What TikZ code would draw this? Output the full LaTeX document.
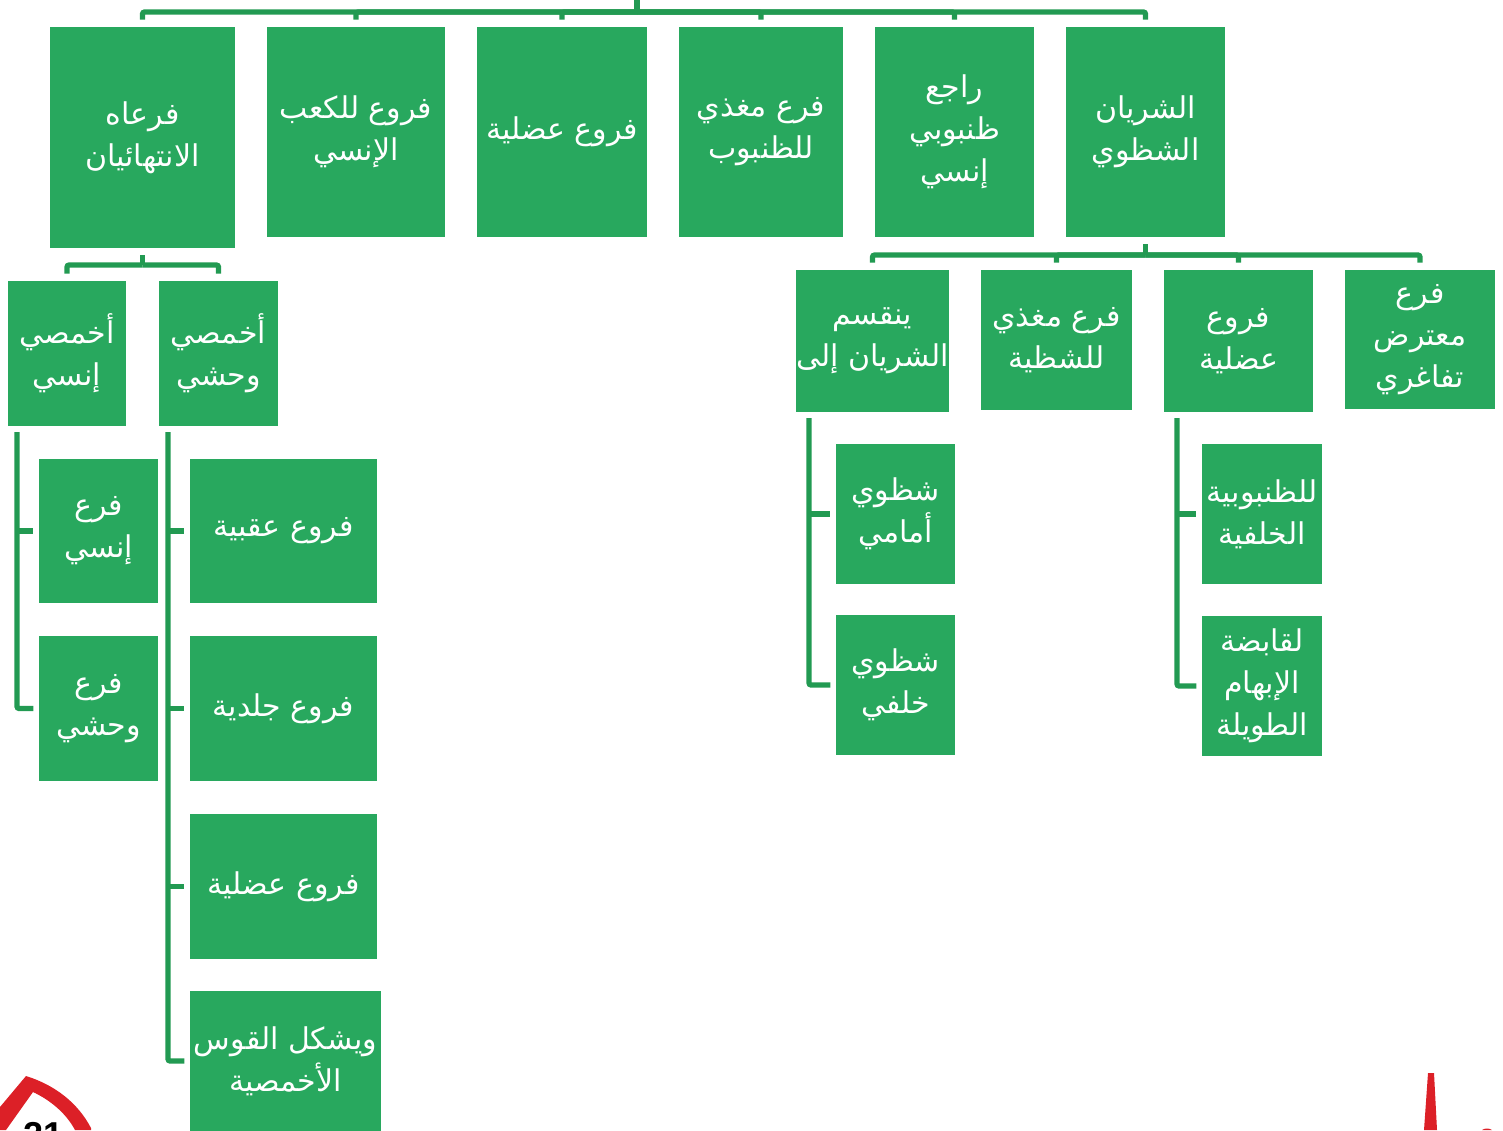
\documentclass[tikz,border=0pt]{standalone}
\usepackage{fontspec}
\TeXXeTstate=1
\newfontfamily\arabicfont[Script=Arabic]{DejaVu Sans}
\definecolor{boxgreen}{HTML}{28A85E}
\definecolor{linegreen}{HTML}{229A52}
\definecolor{logored}{HTML}{DC2027}
\newcommand\rl[1]{\beginR #1\endR}
\newcommand\bx[6]{\node[leafbox,minimum width=\the\dimexpr(#4pt-#2pt)/2\relax,minimum height=\the\dimexpr(#5pt-#3pt)/2\relax] (#1) at ({(#2+#4)/2},{(#3+#5)/2}) {#6};}
\tikzset{
  leafbox/.style={fill=boxgreen,draw=none,inner sep=0pt,text=white,align=center,font=\arabicfont\fontsize{15}{21}\selectfont},
  conn/.style={draw=linegreen,line width=2.6pt,rounded corners=1pt},
  gaptop/.style={shorten >=3.5pt},
  gapside/.style={shorten >=2.6pt}
}
\begin{document}
\begin{tikzpicture}[x=0.5pt,y=-0.5pt]
\useasboundingbox (0,0) rectangle (1503,1130);
% top row
\bx{a1}{50}{27}{235}{248}{\rl{فرعاه}\\\rl{الانتهائيان}}
\bx{a2}{267}{27}{445}{237}{\rl{فروع للكعب}\\\rl{الإنسي}}
\bx{a3}{477}{27}{647}{237}{\rl{فروع عضلية}}
\bx{a4}{679}{27}{843}{237}{\rl{فرع مغذي}\\\rl{للظنبوب}}
\bx{a5}{875}{27}{1034}{237}{\rl{راجع}\\\rl{ظنبوبي}\\\rl{إنسي}}
\bx{a6}{1066}{27}{1225}{237}{\rl{الشريان}\\\rl{الشظوي}}
% left subtree
\bx{b1}{8}{281}{126}{426}{\rl{أخمصي}\\\rl{إنسي}}
\bx{b2}{159}{281}{278}{426}{\rl{أخمصي}\\\rl{وحشي}}
\bx{c1}{39}{459}{158}{603}{\rl{فرع}\\\rl{إنسي}}
\bx{c2}{39}{636}{158}{781}{\rl{فرع}\\\rl{وحشي}}
\bx{d1}{190}{459}{377}{603}{\rl{فروع عقبية}}
\bx{d2}{190}{636}{377}{781}{\rl{فروع جلدية}}
\bx{d3}{190}{814}{377}{959}{\rl{فروع عضلية}}
\bx{d4}{190}{991}{381}{1131}{\rl{ويشكل القوس}\\\rl{الأخمصية}}
% right subtree
\bx{e1}{796}{270}{949}{412}{\rl{ينقسم}\\\rl{الشريان إلى}}
\bx{e2}{981}{270}{1132}{410}{\rl{فرع مغذي}\\\rl{للشظية}}
\bx{e3}{1164}{270}{1313}{412}{\rl{فروع}\\\rl{عضلية}}
\bx{e4}{1345}{270}{1495}{409}{\rl{فرع}\\\rl{معترض}\\\rl{تفاغري}}
\bx{f1}{836}{444}{955}{584}{\rl{شظوي}\\\rl{أمامي}}
\bx{f2}{836}{615}{955}{755}{\rl{شظوي}\\\rl{خلفي}}
\bx{g1}{1202}{444}{1322}{584}{\rl{للظنبوبية}\\\rl{الخلفية}}
\bx{g2}{1202}{616}{1322}{756}{\rl{لقابضة}\\\rl{الإبهام}\\\rl{الطويلة}}
% top bus
\coordinate (topin) at (637,0);
\coordinate (topbus) at (637,12);
\draw[conn] (topin) -- (topbus);
\foreach \n in {a1,a2,a3,a4,a5,a6} \draw[conn,gaptop] (topbus) -| (\n.north);
% bus under a1
\coordinate (abus) at (a1.south |- 0,265);
\draw[conn,shorten <=3.5pt] (a1.south) -- (abus);
\foreach \n in {b1,b2} \draw[conn,gaptop] (abus) -| (\n.north);
% bus under a6
\coordinate (rbus) at (a6.south |- 0,255);
\draw[conn,shorten <=3.5pt] (a6.south) -- (rbus);
\foreach \n in {e1,e2,e3,e4} \draw[conn,gaptop] (rbus) -| (\n.north);
% side trunks
\coordinate (tb1) at (17,432);
\draw[conn,gapside] (tb1) |- (c2.west);
\draw[conn,gapside] (tb1 |- c1.west) -- (c1.west);
\coordinate (tb2) at (168,432);
\draw[conn,gapside] (tb2) |- (d4.west);
\foreach \n in {d1,d2,d3} \draw[conn,gapside] (tb2 |- \n.west) -- (\n.west);
\coordinate (te1) at (809,418);
\draw[conn,gapside] (te1) |- (f2.west);
\draw[conn,gapside] (te1 |- f1.west) -- (f1.west);
\coordinate (te3) at (1177,418);
\draw[conn,gapside] (te3) |- (g2.west);
\draw[conn,gapside] (te3 |- g1.west) -- (g1.west);
% corner logo fragments
\fill[logored] (26,1076) .. controls (55,1085) and (78,1103) .. (91,1128) -- (91,1130) -- (75,1130) .. controls (66,1113) and (50,1100) .. (33,1092) -- (6,1130) -- (0,1130) -- (0,1107) -- cycle;
\node[font=\fontspec{Liberation Sans}\bfseries\fontsize{18}{18}\selectfont,inner sep=0pt,anchor=north] (logonum) at (44,1122) {21};
\fill[logored] (1428,1073) -- (1434,1073) -- (1437,1130) -- (1424,1130) -- cycle;
\fill[logored] (1482,1130) .. controls (1485,1128) and (1489,1128) .. (1492,1130) -- cycle;
\end{tikzpicture}
\end{document}
